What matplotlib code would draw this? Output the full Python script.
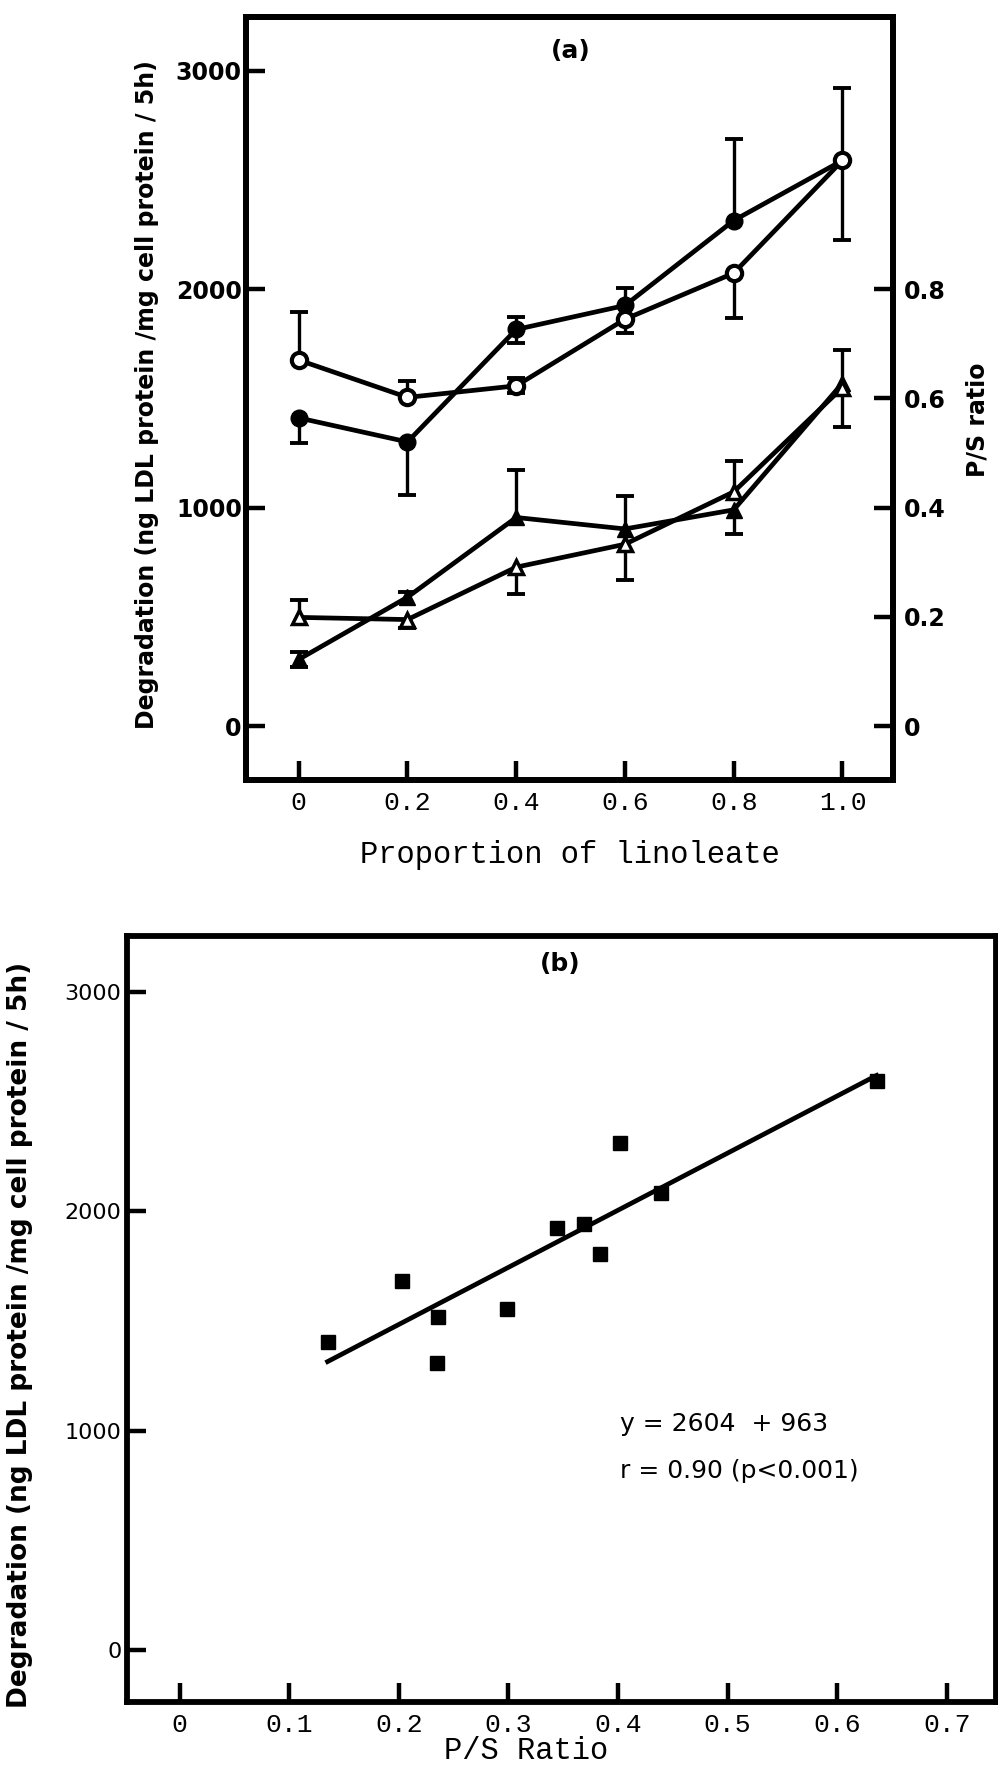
import matplotlib
matplotlib.use("Agg")
import matplotlib.pyplot as plt
from matplotlib import font_manager
import numpy as np

# ---------------- Panel (a): degradation / P/S ratio vs. linoleate ----------------
linoleate = [0, 0.2, 0.4, 0.6, 0.8, 1.0]
linoleate_ticks = [0, 0.2, 0.4, 0.6, 0.8, 1.0]
linoleate_ticklabels = ["0", "0.2", "0.4", "0.6", "0.8", "1.0"]

# LDL degradation (open and filled circles) with one-sided error bars
deg_open = [1676, 1505, 1558, 1863, 2074, 2590]
deg_open_up = [222, 77, 36, 0, 0, 0]
deg_open_down = [0, 0, 35, 63, 204, 364]

deg_filled = [1411, 1301, 1816, 1926, 2315, 2590]
deg_filled_up = [0, 0, 59, 78, 375, 332]
deg_filled_down = [117, 242, 63, 0, 0, 0]

# P/S ratio (filled and open triangles), right-hand axis
ps_filled = [0.122, 0.236, 0.382, 0.361, 0.396, 0.628]
ps_filled_up = [0.014, 0.010, 0.087, 0.061, 0, 0.061]
ps_filled_down = [0.014, 0, 0, 0, 0.044, 0]

ps_open = [0.199, 0.195, 0.291, 0.333, 0.429, 0.620]
ps_open_up = [0.031, 0, 0, 0, 0.057, 0]
ps_open_down = [0, 0.015, 0.049, 0.066, 0, 0.072]

deg_ticks = [0, 1000, 2000, 3000]
deg_ticklabels = ["0", "1000", "2000", "3000"]
ps_ticks = [0, 0.2, 0.4, 0.6, 0.8]
ps_ticklabels = ["0", "0.2", "0.4", "0.6", "0.8"]

# ---------------- Panel (b): degradation vs. P/S ratio ----------------
ps_ratio = [0.135, 0.203, 0.236, 0.235, 0.299, 0.344, 0.369, 0.384, 0.402, 0.439, 0.636]
degradation = [1406, 1681, 1518, 1309, 1556, 1925, 1943, 1803, 2311, 2082, 2593]
fit_slope = 2604
fit_intercept = 963
fit_x = [0.135, 0.636]
ratio_ticks = [0, 0.1, 0.2, 0.3, 0.4, 0.5, 0.6, 0.7]
ratio_ticklabels = ["0", "0.1", "0.2", "0.3", "0.4", "0.5", "0.6", "0.7"]

eq_text = "y = 2604  + 963"
r_text = "r = 0.90 (p<0.001)"
ylabel_text = "Degradation (ng LDL protein /mg cell protein / 5h)"

# degradation units per unit of P/S ratio on the twin axis (0.8 <-> 2000)
PS_SCALE = 2500

# ---------------- styling ----------------
installed = {f.name for f in font_manager.fontManager.ttflist}
NARROW = "Liberation Sans Narrow" if "Liberation Sans Narrow" in installed else "DejaVu Sans"
MONO = "Liberation Mono" if "Liberation Mono" in installed else "DejaVu Sans Mono"

SPINE_W = 4.2
TICK_LEN = 14
TICK_W = 3.2
LINE_W = 3.4


def one_sided_bars(ax, x, y, up, down, cap=13):
    x = np.asarray(x, float)
    y = np.asarray(y, float)
    up = np.asarray(up, float)
    down = np.asarray(down, float)
    top = y + up
    bot = y - down
    ax.vlines(x, bot, top, color="k", lw=2.4, zorder=2)
    m = up > 0
    ax.plot(x[m], top[m], ls="none", marker="_", ms=cap, mew=2.8, color="k", zorder=2)
    m = down > 0
    ax.plot(x[m], bot[m], ls="none", marker="_", ms=cap, mew=2.8, color="k", zorder=2)


def style_spines(ax):
    for s in ax.spines.values():
        s.set_linewidth(SPINE_W)
        s.set_color("k")


fig = plt.figure(figsize=(9.98, 17.71), dpi=100)
fig.patch.set_facecolor("white")

# ===== panel (a) =====
ax = fig.add_axes([0.2465, 0.5596, 0.6483, 0.4308])
ax.set_xlim(-0.097, 1.093)
ax.set_ylim(-247, 3247)
style_spines(ax)

one_sided_bars(ax, linoleate, deg_filled, deg_filled_up, deg_filled_down)
one_sided_bars(ax, linoleate, deg_open, deg_open_up, deg_open_down)
ax.plot(linoleate, deg_filled, "-", color="k", lw=LINE_W, marker="o", ms=12,
        mfc="k", mec="k", zorder=3)
ax.plot(linoleate, deg_open, "-", color="k", lw=LINE_W, marker="o", ms=11,
        mfc="white", mec="k", mew=3, zorder=4)

ax.set_xticks(linoleate_ticks)
ax.set_xticklabels(linoleate_ticklabels, family=MONO, fontsize=19)
ax.set_yticks(deg_ticks)
ax.set_yticklabels(deg_ticklabels, family="DejaVu Sans", fontweight="bold", fontsize=17)
ax.tick_params(axis="both", direction="in", length=TICK_LEN, width=TICK_W,
               top=False, right=False, color="k")
ax.tick_params(axis="x", pad=8)
ax.tick_params(axis="y", pad=3)

ax.set_xlabel("Proportion of linoleate", family=MONO, fontsize=22)
ax.xaxis.set_label_coords(0.5, -0.098)
ax.xaxis.label.set_va("center")
ax.set_ylabel(ylabel_text, family=NARROW, fontweight="bold", fontsize=17)
ax.yaxis.set_label_coords(-0.153, 0.505)
ax.yaxis.label.set_va("center")

ax.text(0.5, 3092, "(a)", ha="center", va="center", fontsize=18, fontweight="bold")

tw = ax.twinx()
tw.set_ylim(ax.get_ylim()[0] / PS_SCALE, ax.get_ylim()[1] / PS_SCALE)
style_spines(tw)
one_sided_bars(tw, linoleate, ps_filled, ps_filled_up, ps_filled_down)
one_sided_bars(tw, linoleate, ps_open, ps_open_up, ps_open_down)
tw.plot(linoleate, ps_filled, "-", color="k", lw=LINE_W, marker="^", ms=11,
        mfc="k", mec="k", zorder=3)
tw.plot(linoleate, ps_open, "-", color="k", lw=LINE_W, marker="^", ms=10,
        mfc="white", mec="k", mew=2.5, zorder=4)
tw.set_yticks(ps_ticks)
tw.set_yticklabels(ps_ticklabels, family="DejaVu Sans", fontweight="bold", fontsize=17)
tw.tick_params(axis="y", direction="in", length=TICK_LEN, width=TICK_W, pad=8, color="k")
tw.set_ylabel("P/S ratio", family=NARROW, fontweight="bold", fontsize=17, rotation=90)
tw.yaxis.set_label_coords(1.131, 0.472)
tw.yaxis.label.set_va("center")

# ===== panel (b) =====
bx = fig.add_axes([0.1273, 0.0390, 0.8707, 0.4325])
bx.set_xlim(-0.048, 0.745)
bx.set_ylim(-237, 3255)
style_spines(bx)

fx = np.array(fit_x)
bx.plot(fx, fit_slope * fx + fit_intercept, "-", color="k", lw=3.4, zorder=2)
bx.plot(ps_ratio, degradation, ls="none", marker="s", ms=10, mfc="k", mec="k", zorder=3)

bx.set_xticks(ratio_ticks)
bx.set_xticklabels(ratio_ticklabels, family=MONO, fontsize=19)
bx.set_yticks(deg_ticks)
bx.set_yticklabels(deg_ticklabels, family="DejaVu Sans", fontsize=16)
bx.tick_params(axis="both", direction="in", length=TICK_LEN, width=TICK_W,
               top=False, right=False, color="k")
bx.tick_params(axis="x", pad=8)
bx.tick_params(axis="y", pad=4)

bx.set_xlabel("P/S Ratio", family=MONO, fontsize=22)
bx.xaxis.set_label_coords(0.459, -0.064)
bx.xaxis.label.set_va("center")
bx.set_ylabel(ylabel_text, family=NARROW, fontweight="bold", fontsize=19)
bx.yaxis.set_label_coords(-0.123, 0.479)
bx.yaxis.label.set_va("center")

bx.text(0.347, 3125, "(b)", ha="center", va="center", fontsize=18, fontweight="bold")
bx.text(0.402, 1030, eq_text, ha="left", va="center", fontsize=18)
bx.text(0.402, 814, r_text, ha="left", va="center", fontsize=18)

fig.savefig("out.png", dpi=100, facecolor="white")
